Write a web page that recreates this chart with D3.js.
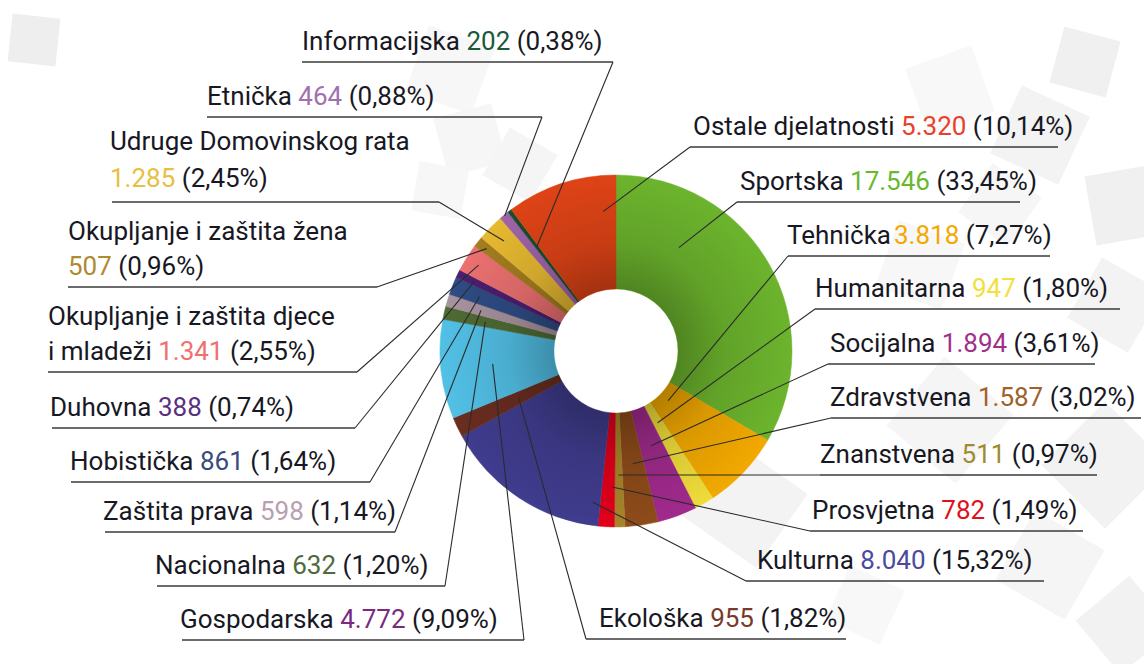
<!DOCTYPE html>
<html>
<head>
<meta charset="utf-8">
<script src="https://cdn.jsdelivr.net/npm/d3@7"></script>
<style>
  html, body { margin: 0; padding: 0; background: #fff; }
  svg { display: block; }
</style>
</head>
<body>
<div id="chart"></div>
<script>
// --- data (slices clockwise from 12 o'clock) ---
const categories = [
  "Sportska", "Tehnička", "Humanitarna", "Socijalna", "Zdravstvena", "Znanstvena",
  "Prosvjetna", "Kulturna", "Ekološka", "Gospodarska", "Nacionalna", "Zaštita prava",
  "Hobistička", "Duhovna", "Okupljanje i zaštita djece\ni mladeži",
  "Okupljanje i zaštita žena\n", "Udruge Domovinskog rata\n", "Etnička",
  "Informacijska", "Ostale djelatnosti"
];
const counts = [17546, 3818, 947, 1894, 1587, 511, 782, 8040, 955, 4772, 632, 598, 861, 388, 1341, 507, 1285, 464, 202, 5320];
const countLabels = ["17.546", "3.818", "947", "1.894", "1.587", "511", "782", "8.040", "955", "4.772",
  "632", "598", "861", "388", "1.341", "507", "1.285", "464", "202", "5.320"];
const percentLabels = ["33,45%", "7,27%", "1,80%", "3,61%", "3,02%", "0,97%", "1,49%", "15,32%", "1,82%", "9,09%",
  "1,20%", "1,14%", "1,64%", "0,74%", "2,55%", "0,96%", "2,45%", "0,88%", "0,38%", "10,14%"];
const sliceColors = ["#6cb42d", "#f2a900", "#eedc3a", "#a02a8c", "#8e4b1a", "#a8852a", "#e2001a", "#403c8e", "#6a2d20", "#52c0e6",
  "#4f6b34", "#a8939f", "#2e4c84", "#4b1f6e", "#ec7070", "#a57d1f", "#e6b931", "#9e63a8", "#174e2c", "#de4316"];
const numberColors = ["#6ab82e", "#f5a800", "#f0e040", "#a0308a", "#a0602a", "#a08a30", "#e01020", "#4a4aa0", "#7a3a2a", "#7a2a80",
  "#506a3a", "#b8a0b0", "#3a4a80", "#5a3080", "#ee7070", "#b08a30", "#e8c040", "#a070b0", "#1a5a3a", "#e8402a"];

// --- label layout: underline y, underline x-range, text start, where the leader meets the slice ---
const labelLayout = [
  { side: "right", tx: 740, x1: 737, x2: 1020, y: 202, t: 0.26, r: 121 },
  { side: "right", tx: 787, x1: 788, x2: 1050, y: 256, t: 0.5, r: 72, sep: "", dx: 3 },
  { side: "right", tx: 815, x1: 815, x2: 1120, y: 309, t: 0.5, r: 83 },
  { side: "right", tx: 830, x1: 828, x2: 1095, y: 364, t: 0.5, r: 101 },
  { side: "right", tx: 830, x1: 831, x2: 1141, y: 418, t: 0.5, r: 114 },
  { side: "right", tx: 820, x1: 820, x2: 1097, y: 475, t: 0.5, r: 124 },
  { side: "right", tx: 812, x1: 810, x2: 1083, y: 531, t: 0.2, r: 136 },
  { side: "right", tx: 757, x1: 746, x2: 1044, y: 581, t: 0.05, r: 153 },
  { side: "right", tx: 599, x1: 586, x2: 846, y: 639, t: 0.5, r: 108 },
  { side: "left", tx: 180, x1: 182, x2: 524, y: 640, t: 0.5, r: 124 },
  { side: "left", tx: 155, x1: 157, x2: 445, y: 586, t: 0.5, r: 134 },
  { side: "left", tx: 103, x1: 105, x2: 395, y: 532, t: 0.5, r: 141 },
  { side: "left", tx: 70, x1: 71, x2: 370, y: 482, t: 0.5, r: 147 },
  { side: "left", tx: 50, x1: 52, x2: 355, y: 428, t: 0.5, r: 158 },
  { side: "left", tx: 48, x1: 48, x2: 357, y: 372, t: 0.5, r: 162 },
  { side: "left", tx: 68, x1: 68, x2: 377, y: 287, t: 0.5, r: 165 },
  { side: "left", tx: 110, x1: 112, x2: 439, y: 202, t: 0.5, r: 157, gap: 15, lh: 37 },
  { side: "left", tx: 207, x1: 207, x2: 542, y: 117, t: 0.5, r: 175 },
  { side: "left", tx: 302, x1: 302, x2: 613, y: 62, t: 0.5, r: 131 },
  { side: "right", tx: 693, x1: 690, x2: 1058, y: 147, t: 0.855, r: 140 }
];

// background decoration: pale rotated squares
const decor = [
  { x: 34, y: 40, s: 48, a: 6, c: "#eeeeee" },
  { x: 450, y: 70, s: 70, a: 20, c: "#f7f7f7" },
  { x: 470, y: 140, s: 60, a: -15, c: "#f6f6f6" },
  { x: 520, y: 165, s: 55, a: 30, c: "#f5f5f5" },
  { x: 440, y: 190, s: 50, a: 10, c: "#f7f7f7" },
  { x: 1085, y: 62, s: 58, a: 15, c: "#f0f0f0" },
  { x: 950, y: 90, s: 70, a: -20, c: "#f8f8f8" },
  { x: 1040, y: 135, s: 75, a: 25, c: "#f3f3f3" },
  { x: 1125, y: 205, s: 70, a: -10, c: "#f0f0f0" },
  { x: 1000, y: 205, s: 60, a: 35, c: "#f6f6f6" },
  { x: 920, y: 265, s: 70, a: 20, c: "#f7f7f7" },
  { x: 1115, y: 305, s: 70, a: 30, c: "#f3f3f3" },
  { x: 950, y: 420, s: 90, a: 40, c: "#f5f5f5" },
  { x: 1105, y: 465, s: 90, a: 45, c: "#f2f2f2" },
  { x: 1050, y: 565, s: 80, a: 30, c: "#f5f5f5" },
  { x: 1125, y: 625, s: 70, a: 50, c: "#f2f2f2" },
  { x: 745, y: 505, s: 90, a: 35, c: "#f3f3f3" },
  { x: 865, y: 605, s: 60, a: 25, c: "#f8f8f8" }
];

const width = 1144, height = 664;
const cx = 616, cy = 351, outerR = 176, innerR = 62;
const fontFamily = "Roboto, 'Open Sans', sans-serif";

const svg = d3.select("#chart").append("svg")
  .attr("width", width).attr("height", height)
  .attr("viewBox", [0, 0, width, height]);

svg.append("rect").attr("width", width).attr("height", height).attr("fill", "#fff");

svg.append("g").selectAll("rect").data(decor).join("rect")
  .attr("x", d => -d.s / 2).attr("y", d => -d.s / 2)
  .attr("width", d => d.s).attr("height", d => d.s)
  .attr("fill", d => d.c)
  .attr("transform", d => `translate(${d.x},${d.y}) rotate(${d.a})`);

// shading for the ring: darker towards the hole
const defs = svg.append("defs");
const grad = defs.append("radialGradient").attr("id", "shade")
  .attr("gradientUnits", "userSpaceOnUse").attr("cx", 0).attr("cy", 0).attr("r", outerR);
grad.append("stop").attr("offset", innerR / outerR).attr("stop-color", "#000").attr("stop-opacity", 0.26);
grad.append("stop").attr("offset", 0.62).attr("stop-color", "#000").attr("stop-opacity", 0.1);
grad.append("stop").attr("offset", 1).attr("stop-color", "#000").attr("stop-opacity", 0);

const pie = d3.pie().sort(null).value(d => d);
const arcs = pie(counts);
const arc = d3.arc().innerRadius(innerR).outerRadius(outerR);

const ring = svg.append("g").attr("transform", `translate(${cx},${cy})`);
ring.selectAll("path.slice").data(arcs).join("path")
  .attr("class", "slice")
  .attr("d", arc)
  .attr("fill", (d, i) => sliceColors[i])
  .attr("stroke", (d, i) => sliceColors[i])
  .attr("stroke-width", 0.5);
ring.append("path")
  .attr("d", d3.arc().innerRadius(innerR).outerRadius(outerR).startAngle(0).endAngle(2 * Math.PI)())
  .attr("fill", "url(#shade)");

// leader lines and underlines
const lines = svg.append("g").attr("fill", "none").attr("stroke", "#2b2b2b");
arcs.forEach((s, i) => {
  const L = labelLayout[i];
  const a = s.startAngle + L.t * (s.endAngle - s.startAngle);
  const px = cx + L.r * Math.sin(a), py = cy - L.r * Math.cos(a);
  const ax = L.side === "left" ? L.x2 : L.x1;
  lines.append("path")
    .attr("d", d3.line()([[L.x1, L.y], [L.x2, L.y]]))
    .attr("stroke-width", 1.6).attr("stroke", "#3a3a3a");
  lines.append("path")
    .attr("d", d3.line()([[ax, L.y], [px, py]]))
    .attr("stroke-width", 1.1);
});

// labels
const labels = svg.append("g")
  .attr("font-family", fontFamily).attr("font-size", 26).attr("fill", "#181824");
categories.forEach((name, i) => {
  const L = labelLayout[i];
  const lineGap = L.lh || 35, baseGap = L.gap || 12;
  const parts = name.split("\n");
  const n = parts.length;
  parts.forEach((p, k) => {
    const t = labels.append("text")
      .attr("x", L.tx)
      .attr("y", L.y - baseGap - (n - 1 - k) * lineGap);
    if (k < n - 1) { t.text(p); return; }
    const sep = L.sep !== undefined ? L.sep : " ";
    if (p) t.append("tspan").text(p + sep);
    t.append("tspan").attr("dx", L.dx || 0).attr("fill", numberColors[i]).text(countLabels[i]);
    t.append("tspan").text(" (" + percentLabels[i] + ")");
  });
});
</script>
</body>
</html>
